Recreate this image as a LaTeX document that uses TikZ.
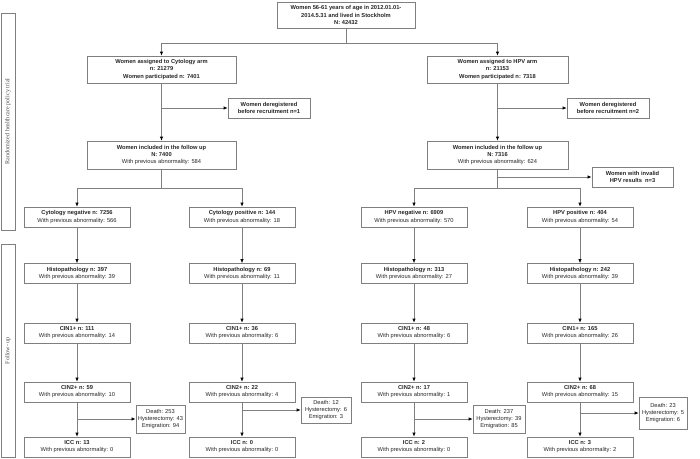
\documentclass[tikz,border=0pt]{standalone}
\usepackage{fontspec}
\setmainfont{Liberation Sans}
\newfontfamily\serifpanel{Liberation Serif}
\usetikzlibrary{arrows.meta}
\definecolor{ln}{HTML}{7F7F7F}
\tikzset{
  box/.style={draw=ln, line width=0.5pt, fill=white, align=center, inner sep=0.5pt,
    font=\fontsize{4.3}{5.3}\selectfont, text=black!85},
  lvl/.style={box, minimum width=79.5pt, minimum height=15pt},
  arr/.style={draw=ln, line width=0.5pt, -{Latex[length=3pt,width=2.6pt,color=black]}},
  panel/.style={draw=ln, line width=0.5pt, rotate=90, font=\serifpanel\fontsize{4.6}{5.5}\selectfont, text=black!70, inner sep=0pt}
}
\begin{document}
\begin{tikzpicture}[x=0.75pt,y=-0.75pt]
\useasboundingbox (0,0) rectangle (700,458);
% panels
\node[panel, minimum width=162.75pt, minimum height=10.5pt] (p1) at (8,121.5) {Randomized healthcare policy trial};
\node[panel, minimum width=159.75pt, minimum height=10.5pt] (p2) at (8,350.5) {Follow- up};
% top
\node[box, minimum width=103.5pt, minimum height=19.5pt] (top) at (346,15) {\textbf{Women 56-61 years of age in 2012.01.01-}\\\textbf{2014.5.31 and lived in Stockholm}\\\textbf{N: 42432}};
\node[box, minimum width=111.75pt, minimum height=20.25pt] (carm) at (161.5,69.5) {\textbf{Women assigned to Cytology arm}\\\textbf{n: 21279}\\\textbf{Women participated n: 7401}};
\node[box, minimum width=106pt, minimum height=20.25pt] (harm) at (497.5,69.5) {\textbf{Women assigned to HPV arm}\\\textbf{n: 21153}\\\textbf{Women participated n: 7318}};
\node[box, minimum width=61.5pt, minimum height=15pt] (cdr) at (269,108) {\textbf{Women deregistered}\\\textbf{before recruitment n=1}};
\node[box, minimum width=61.5pt, minimum height=15pt] (hdr) at (608,108) {\textbf{Women deregistered}\\\textbf{before recruitment n=2}};
\node[box, minimum width=111.75pt, minimum height=21pt] (cinc) at (161.5,155) {\textbf{Women included in the follow up}\\\textbf{N: 7400}\\With previous abnormality: 584};
\node[box, minimum width=106pt, minimum height=21pt] (hinc) at (497.5,155) {\textbf{Women included in the follow up}\\\textbf{N: 7316}\\With previous abnormality: 624};
\node[box, minimum width=61pt, minimum height=15pt] (inv) at (632.5,177) {\textbf{Women with invalid}\\\textbf{HPV results~ n=3}};
% levels
\node[lvl] (a1) at (77,217) {\textbf{Cytology negative n: 7256}\\With previous abnormality: 566};
\node[lvl] (b1) at (242,217) {\textbf{Cytology positive n: 144}\\With previous abnormality: 18};
\node[lvl] (c1) at (414,217) {\textbf{HPV negative n: 6909}\\With previous abnormality: 570};
\node[lvl] (d1) at (580,217) {\textbf{HPV positive n: 404}\\With previous abnormality: 54};
\node[lvl] (a2) at (77,273.5) {\textbf{Histopathology n: 397}\\With previous abnormality: 39};
\node[lvl] (b2) at (242,273.5) {\textbf{Histopathology n: 69}\\With previous abnormality: 11};
\node[lvl] (c2) at (414,273.5) {\textbf{Histopathology n: 313}\\With previous abnormality: 27};
\node[lvl] (d2) at (580,273.5) {\textbf{Histopathology n: 242}\\With previous abnormality: 39};
\node[lvl] (a3) at (77,333) {\textbf{CIN1+ n: 111}\\With previous abnormality: 14};
\node[lvl] (b3) at (242,333) {\textbf{CIN1+ n: 36}\\With previous abnormality: 6};
\node[lvl] (c3) at (414,333) {\textbf{CIN1+ n: 48}\\With previous abnormality: 6};
\node[lvl] (d3) at (580,333) {\textbf{CIN1+ n: 165}\\With previous abnormality: 26};
\node[lvl] (a4) at (77,392) {\textbf{CIN2+ n: 59}\\With previous abnormality: 10};
\node[lvl] (b4) at (242,392) {\textbf{CIN2+ n: 22}\\With previous abnormality: 4};
\node[lvl] (c4) at (414,392) {\textbf{CIN2+ n: 17}\\With previous abnormality: 1};
\node[lvl] (d4) at (580,392) {\textbf{CIN2+ n: 68}\\With previous abnormality: 15};
\node[lvl] (a5) at (77,447) {\textbf{ICC n: 13}\\With previous abnormality: 0};
\node[lvl] (b5) at (242,447) {\textbf{ICC n: 0}\\With previous abnormality: 0};
\node[lvl] (c5) at (414,447) {\textbf{ICC n: 2}\\With previous abnormality: 0};
\node[lvl] (d5) at (580,447) {\textbf{ICC n: 3}\\With previous abnormality: 2};
% losses
\node[box, minimum width=37pt, minimum height=21pt] (ae) at (160.5,419) {Death: 253\\Hysterectomy: 43\\Emigration: 94};
\node[box, minimum width=37.5pt, minimum height=19.5pt] (be) at (326,410) {Death: 12\\Hysterectomy: 6\\Emigration: 3};
\node[box, minimum width=39pt, minimum height=21pt] (ce) at (499,419) {Death: 237\\Hysterectomy: 39\\Emigration: 85};
\node[box, minimum width=36pt, minimum height=24pt] (de) at (663,413) {Death: 23\\Hysterectomy: 5\\Emigration: 6};
% connectors
\draw[arr] (top.south) -- ++(0,15) -| (carm.north);
\draw[arr] (top.south) -- ++(0,15) -| (harm.north);
\draw[arr] (carm.south) -- (cinc.north);
\draw[arr] (harm.south) -- (hinc.north);
\draw[arr] (cdr.west -| carm.south) -- (cdr.west);
\draw[arr] (hdr.west -| harm.south) -- (hdr.west);
\draw[arr] (inv.west -| hinc.south) -- (inv.west);
\draw[arr] (cinc.south) -- ++(0,19) -| (a1.north);
\draw[arr] (cinc.south) -- ++(0,19) -| (b1.north);
\draw[arr] (hinc.south) -- ++(0,19) -| (c1.north);
\draw[arr] (hinc.south) -- ++(0,19) -| (d1.north);
\foreach \c in {a,b,c,d}{
  \draw[arr] (\c1.south) -- (\c2.north);
  \draw[arr] (\c2.south) -- (\c3.north);
  \draw[arr] (\c3.south) -- (\c4.north);
  \draw[arr] (\c4.south) -- (\c5.north);
  \draw[arr] (\c e.west -| \c4.south) -- (\c e.west);
}
\end{tikzpicture}
\end{document}
